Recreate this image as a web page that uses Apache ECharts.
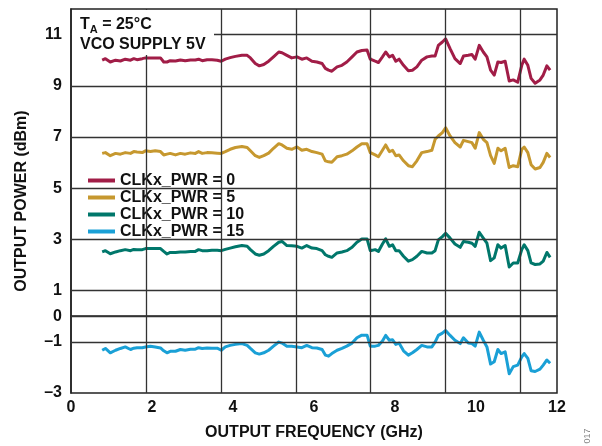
<!DOCTYPE html>
<html>
<head>
<meta charset="utf-8">
<title>Output Power vs Output Frequency</title>
<script src="https://cdn.jsdelivr.net/npm/echarts@6/dist/echarts.min.js"></script>
<style>
  html, body { margin: 0; padding: 0; background: #fff; }
  #main { width: 602px; height: 446px; }
</style>
</head>
<body>
<div id="main"></div>
<script type="text/javascript">
// output frequency (GHz), shared by all four curves
var freq = [0.77, 0.85, 0.97, 1.10, 1.22, 1.34, 1.47, 1.55, 1.63, 1.76,
  1.84, 1.96, 2.08, 2.21, 2.29, 2.37, 2.45, 2.58, 2.70, 2.82,
  2.95, 3.07, 3.15, 3.24, 3.36, 3.48, 3.61, 3.71, 3.81, 3.93,
  4.06, 4.22, 4.35, 4.43, 4.55, 4.65, 4.76, 4.88, 5.00, 5.13,
  5.21, 5.33, 5.45, 5.58, 5.70, 5.82, 5.95, 6.07, 6.20,
  6.28, 6.36, 6.44, 6.57, 6.69, 6.81, 6.94, 7.06, 7.18, 7.31,
  7.39, 7.51, 7.59, 7.69, 7.77, 7.86, 7.94, 8.02, 8.10, 8.21,
  8.33, 8.43, 8.54, 8.66, 8.79, 8.91, 8.99, 9.07, 9.17, 9.25,
  9.36, 9.48, 9.61, 9.69, 9.81, 9.90, 9.98, 10.08, 10.18, 10.27,
  10.36, 10.45, 10.54, 10.62, 10.72, 10.82, 10.92, 11.03, 11.13, 11.19,
  11.28, 11.36, 11.46, 11.58, 11.66, 11.75, 11.83];

// output power (dBm)
var pwr0 = [10.00, 10.06, 9.93, 10.00, 9.97, 10.04, 10.00, 10.06, 10.02, 10.06,
  10.09, 10.09, 10.09, 10.09, 9.93, 9.93, 9.98, 9.97, 10.01, 9.98,
  10.01, 10.01, 10.04, 9.98, 10.02, 10.02, 10.00, 9.96, 10.04, 10.10,
  10.15, 10.19, 10.19, 10.09, 9.87, 9.78, 9.83, 9.96, 10.13, 10.32,
  10.29, 10.19, 10.09, 10.13, 10.04, 10.09, 9.96, 9.93, 9.87,
  9.68, 9.61, 9.57, 9.74, 9.80, 9.93, 10.13, 10.32, 10.38, 10.40,
  10.04, 9.96, 9.91, 10.13, 10.32, 10.13, 10.19, 9.96, 10.04, 9.80,
  9.59, 9.61, 9.74, 10.00, 10.13, 10.16, 10.16, 10.58, 10.71, 10.83,
  10.45, 10.06, 9.87, 10.16, 10.19, 10.22, 10.04, 10.58, 10.32, 10.13,
  9.61, 9.42, 9.93, 9.91, 9.96, 9.19, 9.23, 9.14, 9.80, 10.04,
  9.80, 9.29, 9.10, 9.23, 9.42, 9.78, 9.61];

var pwr5 = [6.36, 6.39, 6.27, 6.36, 6.33, 6.39, 6.36, 6.43, 6.41, 6.39,
  6.46, 6.43, 6.46, 6.43, 6.30, 6.33, 6.36, 6.30, 6.36, 6.33,
  6.38, 6.36, 6.43, 6.36, 6.39, 6.38, 6.37, 6.36, 6.43, 6.52,
  6.59, 6.63, 6.59, 6.46, 6.27, 6.20, 6.27, 6.37, 6.56, 6.74,
  6.69, 6.56, 6.52, 6.61, 6.48, 6.52, 6.43, 6.39, 6.33,
  6.07, 6.03, 6.01, 6.23, 6.27, 6.33, 6.46, 6.61, 6.74, 6.74,
  6.39, 6.30, 6.23, 6.48, 6.69, 6.43, 6.48, 6.27, 6.30, 6.07,
  5.88, 5.84, 6.07, 6.39, 6.43, 6.48, 6.91, 7.04, 7.17, 7.36,
  7.04, 6.78, 6.61, 6.87, 6.82, 6.78, 6.56, 7.17, 6.91, 6.78,
  6.27, 5.97, 6.56, 6.46, 6.56, 5.81, 5.88, 5.84, 6.52, 6.61,
  6.39, 5.92, 5.75, 5.81, 6.01, 6.36, 6.20];

var pwr10 = [2.51, 2.56, 2.44, 2.51, 2.56, 2.60, 2.56, 2.61, 2.60, 2.60,
  2.64, 2.64, 2.64, 2.64, 2.53, 2.43, 2.49, 2.49, 2.51, 2.51,
  2.53, 2.53, 2.60, 2.56, 2.56, 2.58, 2.58, 2.56, 2.61, 2.66,
  2.71, 2.76, 2.73, 2.60, 2.43, 2.38, 2.43, 2.56, 2.73, 2.89,
  2.92, 2.76, 2.75, 2.73, 2.66, 2.76, 2.66, 2.64, 2.56,
  2.40, 2.34, 2.30, 2.47, 2.51, 2.56, 2.69, 2.89, 3.02, 3.02,
  2.56, 2.60, 2.53, 2.82, 3.02, 2.73, 2.79, 2.56, 2.56, 2.34,
  2.15, 2.21, 2.34, 2.53, 2.47, 2.47, 2.56, 2.98, 3.11, 3.24,
  3.05, 2.82, 2.69, 2.92, 2.89, 2.85, 2.73, 3.28, 3.05, 2.85,
  2.17, 2.28, 2.79, 2.66, 2.76, 1.92, 2.08, 2.08, 2.60, 2.79,
  2.56, 2.08, 2.02, 2.04, 2.15, 2.49, 2.30];

var pwr15 = [-1.33, -1.26, -1.43, -1.33, -1.26, -1.20, -1.30, -1.25, -1.23, -1.23,
  -1.20, -1.17, -1.20, -1.24, -1.35, -1.43, -1.37, -1.37, -1.30, -1.33,
  -1.29, -1.29, -1.23, -1.26, -1.24, -1.25, -1.25, -1.33, -1.20, -1.14,
  -1.10, -1.07, -1.14, -1.26, -1.43, -1.48, -1.43, -1.33, -1.17, -1.01,
  -1.05, -1.17, -1.17, -1.20, -1.23, -1.14, -1.23, -1.24, -1.30,
  -1.52, -1.56, -1.46, -1.33, -1.26, -1.17, -1.05, -0.84, -0.74, -0.74,
  -1.17, -1.17, -1.14, -0.97, -0.75, -0.94, -0.92, -1.10, -1.05, -1.35,
  -1.52, -1.43, -1.30, -1.14, -1.20, -1.20, -1.01, -0.75, -0.66, -0.56,
  -0.75, -0.94, -1.07, -0.84, -1.05, -1.07, -1.17, -0.62, -0.94, -1.20,
  -1.87, -1.78, -1.30, -1.46, -1.39, -2.25, -1.97, -1.91, -1.59, -1.46,
  -1.65, -2.13, -2.16, -2.07, -1.91, -1.71, -1.84];

var seriesNames = ['CLKx_PWR = 0', 'CLKx_PWR = 5', 'CLKx_PWR = 10', 'CLKx_PWR = 15'];
var seriesValues = [pwr0, pwr5, pwr10, pwr15];
var seriesColors = ['#A11D47', '#C6982F', '#00776B', '#1AA0D6'];

// tick labels and grid positions
var yLabels = [11, 9, 7, 5, 3, 1, 0, -1, -3];
var yGrid = [11, 9, 7, 5, 3, 1, 0, -1];
var xGrid = [1.85, 3.7, 5.55, 7.4, 9.25, 11.1];

var FONT = 'Liberation Sans, Arial, sans-serif';
var chart = echarts.init(document.getElementById('main'));

function pairs(vals) {
  return freq.map(function (f, i) { return [f, vals[i]]; });
}

var series = [{
  // grid lines of the original figure
  name: 'grid',
  type: 'line',
  data: [],
  z: 1,
  silent: true,
  markLine: {
    silent: true,
    symbol: 'none',
    animation: false,
    label: { show: false },
    lineStyle: { color: '#333', width: 1.3, type: 'solid' },
    data: yGrid.map(function (v) { return { yAxis: v }; })
      .concat(xGrid.map(function (v) { return { xAxis: v }; }))
  }
}];

seriesNames.forEach(function (name, i) {
  series.push({
    name: name,
    type: 'line',
    data: pairs(seriesValues[i]),
    showSymbol: false,
    symbol: 'none',
    z: 3,
    lineStyle: { color: seriesColors[i], width: 3, join: 'round' },
    itemStyle: { color: seriesColors[i] }
  });
});

var option = {
  animation: false,
  grid: {
    left: 71, right: 45, top: 9, bottom: 48,
    show: true,
    borderColor: '#222',
    borderWidth: 1.5,
    backgroundColor: 'transparent'
  },
  legend: {
    data: seriesNames,
    orient: 'vertical',
    left: 77,
    top: 170,
    padding: [2, 18, 2, 11],
    itemGap: 0,
    itemWidth: 27,
    itemHeight: 4,
    icon: 'rect',
    backgroundColor: '#fff',
    textStyle: { fontFamily: FONT, fontWeight: 'bold', fontSize: 16, color: '#111', lineHeight: 17 }
  },
  xAxis: {
    type: 'value',
    min: 0,
    max: 12,
    interval: 2,
    name: 'OUTPUT FREQUENCY (GHz)',
    nameLocation: 'middle',
    nameGap: 32,
    nameTextStyle: { fontFamily: FONT, fontWeight: 'bold', fontSize: 16, color: '#111' },
    axisLine: { lineStyle: { color: '#222', width: 1.5 } },
    axisTick: { show: false },
    splitLine: { show: false },
    axisLabel: { fontFamily: FONT, fontWeight: 'bold', fontSize: 16, color: '#111', margin: 7 }
  },
  yAxis: {
    type: 'value',
    min: -3,
    max: 12,
    interval: 1,
    name: 'OUTPUT POWER (dBm)',
    nameLocation: 'middle',
    nameGap: 41,
    nameTextStyle: { fontFamily: FONT, fontWeight: 'bold', fontSize: 16, color: '#111' },
    axisLine: { lineStyle: { color: '#222', width: 1.5 } },
    axisTick: { show: false },
    splitLine: { show: false },
    axisLabel: {
      fontFamily: FONT, fontWeight: 'bold', fontSize: 16, color: '#111', margin: 9,
      formatter: function (v) {
        if (yLabels.indexOf(v) < 0) return '';
        return v < 0 ? '\u2013' + Math.abs(v) : String(v);
      }
    }
  },
  graphic: [
    {
      type: 'rect',
      z: 10,
      shape: { x: 72, y: 10, width: 142, height: 45 },
      style: { fill: '#fff' }
    },
    {
      type: 'text',
      z: 11,
      x: 80,
      y: 15,
      style: {
        text: '{t|T}{s|A}{t| = 25°C}\n{t|VCO SUPPLY 5V}',
        fontFamily: FONT,
        fontWeight: 'bold',
        fontSize: 16,
        fill: '#111',
        rich: {
          t: { fontFamily: FONT, fontWeight: 'bold', fontSize: 16, lineHeight: 20, verticalAlign: 'middle' },
          s: { fontFamily: FONT, fontWeight: 'bold', fontSize: 11, lineHeight: 20, verticalAlign: 'bottom' }
        }
      }
    },
    {
      type: 'text',
      z: 11,
      x: 588,
      y: 436,
      rotation: Math.PI / 2,
      style: { text: '017', fontFamily: FONT, fontSize: 9, fill: '#888', align: 'center', verticalAlign: 'middle' }
    }
  ],
  series: series
};

chart.setOption(option);
</script>
</body>
</html>
